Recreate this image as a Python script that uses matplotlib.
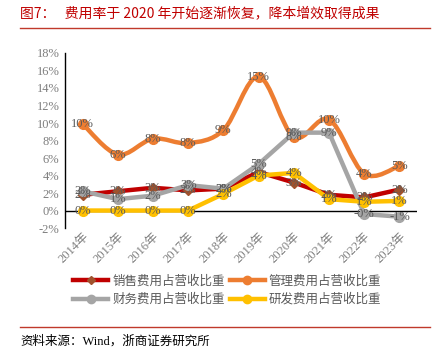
import numpy as np
import matplotlib.pyplot as plt
from matplotlib.path import Path
from matplotlib.patches import PathPatch
from matplotlib.lines import Line2D

plt.rcParams['font.family'] = ['Liberation Serif', 'Noto Sans CJK SC']

years = ["2014年", "2015年", "2016年", "2017年", "2018年",
         "2019年", "2020年", "2021年", "2022年", "2023年"]
sales = [1.8, 2.2, 2.6, 2.3, 2.5, 4.4, 3.2, 1.8, 1.5, 2.4]
manage = [9.9, 6.4, 8.2, 7.7, 9.2, 15.3, 8.4, 10.4, 4.2, 5.1]
finance = [2.2, 1.3, 1.7, 2.9, 2.5, 5.3, 8.9, 8.9, -0.4, -0.7]
rnd = [0.0, 0.0, 0.0, 0.0, 1.9, 4.0, 4.3, 1.3, 1.0, 1.1]
names = ["销售费用占营收比重", "管理费用占营收比重", "财务费用占营收比重", "研发费用占营收比重"]
colors = ["#C00000", "#ED7D31", "#A5A5A5", "#FFC000"]
label_color = "#595959"
tick_color = "#7F7F7F"

fig = plt.figure(figsize=(4.48, 3.58), dpi=100)
ax = fig.add_axes([0.145, 0.363, 0.786, 0.489])
x = np.arange(len(years))


def smooth_path(xs, ys):
    # Catmull-Rom style bezier through the points
    pts = np.column_stack([xs, ys])
    verts = [pts[0]]
    codes = [Path.MOVETO]
    n = len(pts)
    for i in range(n - 1):
        p0 = pts[i - 1] if i > 0 else pts[i]
        p1 = pts[i]
        p2 = pts[i + 1]
        p3 = pts[i + 2] if i + 2 < n else pts[i + 1]
        c1 = p1 + (p2 - p0) / 6.0
        c2 = p2 - (p3 - p1) / 6.0
        verts += [c1, c2, p2]
        codes += [Path.CURVE4] * 3
    return Path(verts, codes)


ax.axhline(0, color="black", lw=1.0, zorder=1)

ax.plot(x, sales, color=colors[0], lw=3.2, marker="D", ms=5, mfc="#A0522D", mec="#A0522D", zorder=3)
ax.add_patch(PathPatch(smooth_path(x, manage), fill=False, ec=colors[1], lw=3.2, zorder=3))
ax.plot(x, manage, ls="none", marker="o", ms=7, color=colors[1], zorder=3)
ax.plot(x, finance, color=colors[2], lw=3.2, marker="o", ms=7, zorder=4)
ax.plot(x, rnd, color=colors[3], lw=3.2, marker="o", ms=7, zorder=5)

for series in [sales, manage, finance, rnd]:
    for xi, v in zip(x, series):
        ax.text(xi, v, "{:.0f}%".format(v), ha="center", va="center",
                fontsize=9, color=label_color, zorder=6)

ax.set_xlim(-0.5, 9.5)
ax.set_ylim(-2, 18)
ax.set_yticks(np.arange(-2, 19, 2))
ax.set_yticklabels(["{}%".format(t) for t in range(-2, 19, 2)])
ax.set_xticks(x)
ax.set_xticklabels(years, rotation=45, ha="right", rotation_mode="anchor")
ax.tick_params(axis="both", length=0, labelsize=9, labelcolor=tick_color)
ax.tick_params(axis="y", pad=4)
ax.tick_params(axis="x", pad=2)
for s in ["top", "right", "bottom"]:
    ax.spines[s].set_visible(False)
ax.spines["left"].set_color("black")
ax.spines["left"].set_linewidth(1.0)

h_sales = Line2D([], [], color=colors[0], lw=3.2, marker="D", ms=4, mfc="#A0522D", mec="#A0522D")
h_manage = Line2D([], [], color=colors[1], lw=3.2, marker="o", ms=6)
h_fin = Line2D([], [], color=colors[2], lw=3.2, marker="o", ms=6)
h_rnd = Line2D([], [], color=colors[3], lw=3.2, marker="o", ms=6)
# column-wise fill: put rows as 销售/管理 then 财务/研发
leg = fig.legend([h_sales, h_fin, h_manage, h_rnd],
                 [names[0], names[2], names[1], names[3]],
                 loc="upper center", bbox_to_anchor=(0.507, 0.265), ncol=2,
                 frameon=False, handlelength=2.8, handletextpad=0.3,
                 columnspacing=0.4, labelspacing=0.45,
                 prop={"family": ["Noto Sans CJK SC"], "size": 9})
for t in leg.get_texts():
    t.set_color(label_color)

fig.text(0.045, 0.962, "图7：   费用率于 2020 年开始逐渐恢复，降本增效取得成果", color="#C00000",
         fontsize=10, family=["Noto Sans CJK SC"], va="center", ha="left")
fig.add_artist(Line2D([0.045, 0.96], [0.922, 0.922], color="#C0392B", lw=1.0))
fig.add_artist(Line2D([0.045, 0.96], [0.087, 0.087], color="#C0392B", lw=1.0))
fig.text(0.045, 0.045, "资料来源：Wind，浙商证券研究所", color="black",
         fontsize=9, family=["Liberation Serif", "Noto Sans CJK SC"], va="center", ha="left")

fig.savefig("out.png", dpi=100)
